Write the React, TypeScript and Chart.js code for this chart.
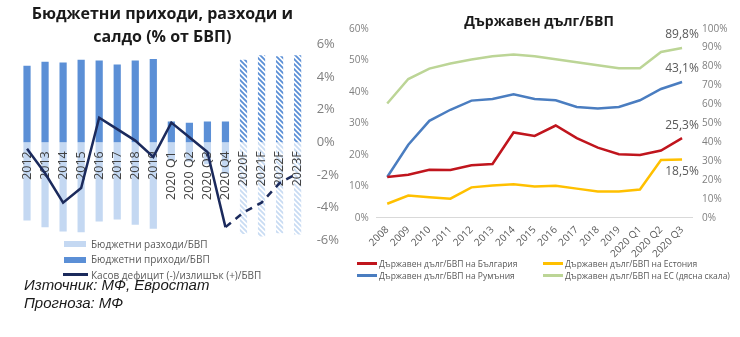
import React, { useEffect, useRef } from 'react';
import { Chart, registerables } from 'chart.js';
Chart.register(...registerables);

const FONT = '"Open Sans", "Noto Sans", sans-serif';

// ---------- Left chart: budget (% of GDP) ----------
const budgetCategories = ['2012', '2013', '2014', '2015', '2016', '2017', '2018', '2019', '2020 Q1', '2020 Q2', '2020 Q3', '2020 Q4', '2020F', '2021F', '2022F', '2023F'];
const budgetRevenue = [37.5, 39.5, 39.1, 40.4, 40.1, 38.1, 40.1, 40.8, 10.2, 9.6, 10.2, 10.2, 40.4, 42.6, 42.1, 42.6];
const budgetExpenditure = [38.3, 41.7, 43.7, 44.1, 38.8, 37.9, 40.4, 42.4, 9.0, 9.4, 10.8, 15.4, 45.0, 46.2, 44.6, 45.2];
const budgetBalance = [-0.4, -1.9, -3.7, -2.8, 1.5, 0.8, 0.1, -0.9, 1.2, 0.3, -0.6, -5.2, -4.3, -3.7, -2.5, -1.9];
const budgetSeriesNames = ['Бюджетни разходи/БВП', 'Бюджетни приходи/БВП', 'Касов дефицит (-)/излишък (+)/БВП'];
const budgetTitle = ['Бюджетни приходи, разходи и', 'салдо (% от БВП)'];

// ---------- Right chart: government debt (% of GDP) ----------
const debtCategories = ['2008', '2009', '2010', '2011', '2012', '2013', '2014', '2015', '2016', '2017', '2018', '2019', '2020 Q1', '2020 Q2', '2020 Q3'];
const debtBulgaria = [13.0, 13.7, 15.3, 15.2, 16.7, 17.1, 27.1, 26.0, 29.3, 25.3, 22.3, 20.2, 20.0, 21.4, 25.3];
const debtEstonia = [4.5, 7.1, 6.6, 6.1, 9.7, 10.3, 10.7, 10.0, 10.2, 9.3, 8.4, 8.4, 9.0, 18.4, 18.5];
const debtRomania = [13.0, 23.2, 30.8, 34.3, 37.2, 37.7, 39.2, 37.7, 37.3, 35.2, 34.7, 35.2, 37.3, 40.9, 43.1];
const debtEU = [60.5, 73.4, 78.9, 81.6, 83.7, 85.4, 86.3, 85.4, 83.9, 82.3, 80.7, 79.1, 79.1, 87.7, 89.8];
const debtSeriesNames = ['Държавен дълг/БВП на България', 'Държавен дълг/БВП на Естония', 'Държавен дълг/БВП на Румъния', 'Държавен дълг/БВП на ЕС (дясна скала)'];
const debtTitle = 'Държавен дълг/БВП';

const REV = '#5b8fd6';
const EXP = '#c4d8f2';
const BAL = '#1b2a5c';
const DEBT_COLORS = ['#c0151d', '#ffc000', '#4a7dc0', '#bcd596'];
const LABEL_POS = ['above', 'below', 'above', 'above'];

function hatch(color: string, bg: string) {
  const c = document.createElement('canvas');
  c.width = 5; c.height = 5;
  const g = c.getContext('2d')!;
  g.fillStyle = bg; g.fillRect(0, 0, 5, 5);
  g.strokeStyle = color; g.lineWidth = 1.8;
  g.beginPath();
  g.moveTo(-5, -5); g.lineTo(10, 10);
  g.moveTo(-5, 0); g.lineTo(5, 10);
  g.moveTo(0, -5); g.lineTo(10, 5);
  g.stroke();
  return g.createPattern(c, 'repeat')!;
}

// Draw line datasets after the category labels (bars -> labels -> line)
const lineOnTop = {
  id: 'lineOnTop',
  beforeDatasetDraw(chart: any, args: any) {
    if (chart.data.datasets[args.index].type === 'line') return false;
    return true;
  },
  afterDraw(chart: any) {
    chart.data.datasets.forEach((ds: any, i: number) => {
      if (ds.type === 'line') chart.getDatasetMeta(i).controller.draw();
    });
  },
};

function BudgetChart() {
  const ref = useRef<HTMLCanvasElement>(null);
  useEffect(() => {
    const isF = budgetCategories.map(c => c.endsWith('F'));
    const firstF = isF.indexOf(true);
    const revHatch = hatch(REV, '#ffffff');
    const expHatch = hatch('#c9dcf3', '#ffffff');
    const chart = new Chart(ref.current!, {
      type: 'bar',
      data: {
        labels: budgetCategories,
        datasets: [
          {
            type: 'line', label: budgetSeriesNames[2], data: budgetBalance, yAxisID: 'y1',
            borderColor: BAL, borderWidth: 2.5, pointRadius: 0, order: 0,
            segment: { borderDash: (ctx: any) => (ctx.p1DataIndex >= firstF ? [7, 6] : undefined) },
          } as any,
          {
            label: budgetSeriesNames[1], data: budgetRevenue, yAxisID: 'y',
            backgroundColor: isF.map(f => (f ? revHatch : REV)), order: 1,
            barPercentage: 0.4, categoryPercentage: 1,
          },
          {
            label: budgetSeriesNames[0], data: budgetExpenditure.map(v => -v), yAxisID: 'y',
            backgroundColor: isF.map(f => (f ? expHatch : EXP)), order: 2,
            barPercentage: 0.4, categoryPercentage: 1,
          },
        ],
      },
      options: {
        responsive: false,
        animation: false,
        layout: { padding: { left: 18, right: 3, top: 0, bottom: 0 } },
        plugins: {
          legend: { display: false },
          tooltip: { enabled: false },
          title: {
            display: true, text: budgetTitle, color: '#1a1a1a', fullSize: false,
            font: { family: FONT, size: 16, weight: 'bold', lineHeight: 1.44 },
            padding: { top: 2.5, bottom: -4.3 },
          },
        },
        scales: {
          x: {
            stacked: true,
            position: { y: 0 } as any,
            grid: { display: false, drawTicks: false },
            border: { display: false },
            ticks: { z: 1, minRotation: 90, maxRotation: 90, autoSkip: false, padding: 9, color: '#404040', font: { family: FONT, size: 12.5 } },
          },
          y: { stacked: true, display: false, min: -48, max: 48 },
          y1: {
            position: 'right', min: -6, max: 6,
            grid: { display: false, drawTicks: false },
            border: { display: false },
            ticks: { stepSize: 2, padding: 10, color: '#808080', font: { family: FONT, size: 13 }, callback: (v: any) => v + '%' },
          },
        },
      },
      plugins: [lineOnTop],
    });
    return () => chart.destroy();
  }, []);
  return <canvas ref={ref} width={352} height={258} style={{ position: 'absolute', left: 0, top: 0, width: 352, height: 258 }} />;
}

const endLabels = {
  id: 'endLabels',
  afterDatasetsDraw(chart: any) {
    const ctx = chart.ctx;
    chart.data.datasets.forEach((ds: any, i: number) => {
      const meta = chart.getDatasetMeta(i);
      const pt = meta.data[meta.data.length - 1];
      const v = ds.data[ds.data.length - 1];
      ctx.save();
      ctx.font = `12px ${FONT}`;
      ctx.fillStyle = '#595959';
      ctx.textAlign = 'center';
      ctx.textBaseline = 'middle';
      ctx.fillText(v.toFixed(1).replace('.', ',') + '%', pt.x, pt.y + (LABEL_POS[i] === 'above' ? -13 : 12));
      ctx.restore();
    });
  },
};

function DebtChart() {
  const ref = useRef<HTMLCanvasElement>(null);
  useEffect(() => {
    const series = [debtBulgaria, debtEstonia, debtRomania, debtEU];
    const chart = new Chart(ref.current!, {
      type: 'line',
      data: {
        labels: debtCategories,
        datasets: series.map((d, i) => ({
          label: debtSeriesNames[i], data: d, yAxisID: i === 3 ? 'y1' : 'y',
          borderColor: DEBT_COLORS[i], borderWidth: 2.5, pointRadius: 0, tension: 0,
        })),
      },
      options: {
        responsive: false,
        animation: false,
        layout: { padding: { left: 8, right: 3, top: 0, bottom: 0 } },
        plugins: {
          legend: { display: false },
          tooltip: { enabled: false },
          title: {
            display: true, text: debtTitle, color: '#1a1a1a',
            font: { family: FONT, size: 14, weight: 'bold', lineHeight: 1.2 },
            padding: { top: 13.6, bottom: -1.7 },
          },
        },
        scales: {
          x: {
            offset: true,
            grid: { display: false, drawTicks: false },
            border: { display: true, color: '#d9d9d9' },
            ticks: { minRotation: 45, maxRotation: 45, autoSkip: false, padding: 6, color: '#595959', font: { family: FONT, size: 10 } },
          },
          y: {
            min: 0, max: 60,
            grid: { display: false, drawTicks: false },
            border: { display: false },
            ticks: { stepSize: 10, padding: 8, color: '#808080', font: { family: FONT, size: 10 }, callback: (v: any) => v + '%' },
          },
          y1: {
            position: 'right', min: 0, max: 100,
            grid: { display: false, drawTicks: false },
            border: { display: false },
            ticks: { stepSize: 10, padding: 9.5, color: '#808080', font: { family: FONT, size: 10 }, callback: (v: any) => v + '%' },
          },
        },
      },
      plugins: [endLabels],
    });
    return () => chart.destroy();
  }, []);
  return <canvas ref={ref} width={407} height={266} style={{ position: 'absolute', left: 333, top: 0, width: 407, height: 266 }} />;
}

function Swatch({ kind, color }: { kind: string; color: string }) {
  if (kind === 'line') {
    return <span style={{ display: 'inline-block', width: 25, height: 3, background: color, marginRight: 3, verticalAlign: 'middle' }} />;
  }
  return <span style={{ display: 'inline-block', width: 22, height: 6, background: color, marginLeft: 1, marginRight: 5, verticalAlign: 'middle' }} />;
}

export default function App() {
  const budgetLegend = [
    { name: budgetSeriesNames[0], kind: 'box', color: EXP },
    { name: budgetSeriesNames[1], kind: 'box', color: REV },
    { name: budgetSeriesNames[2], kind: 'line', color: BAL },
  ];
  const debtLegendPos = [
    { left: 357, top: 257 }, { left: 543, top: 257 }, { left: 357, top: 269 }, { left: 543, top: 269 },
  ];
  return (
    <div style={{ position: 'fixed', left: 0, top: 0, width: 740, height: 337, background: '#fff', overflow: 'hidden' }}>
      <BudgetChart />
      <DebtChart />
      <div style={{ position: 'absolute', left: 63, top: 236, fontFamily: FONT, fontSize: 10, color: '#595959', lineHeight: '14px' }}>
        {budgetLegend.map((it, i) => (
          <div key={i} style={{ whiteSpace: 'nowrap' }}>
            <Swatch kind={it.kind} color={it.color} />
            <span style={{ verticalAlign: 'middle' }}>{it.name}</span>
          </div>
        ))}
      </div>
      {debtSeriesNames.map((n, i) => (
        <div key={i} style={{ position: 'absolute', left: debtLegendPos[i].left, top: debtLegendPos[i].top, fontFamily: FONT, fontSize: 8.5, color: '#595959', lineHeight: '12px', whiteSpace: 'nowrap' }}>
          <span style={{ display: 'inline-block', width: 20, height: 3, background: DEBT_COLORS[i], marginRight: 2, verticalAlign: 'middle' }} />
          <span style={{ verticalAlign: 'middle' }}>{n}</span>
        </div>
      ))}
      <div style={{ position: 'absolute', left: 24, top: 276, fontFamily: '"Liberation Sans", Arial, sans-serif', fontStyle: 'italic', fontSize: 15, color: '#1a1a1a', lineHeight: '18px' }}>
        <div>Източник: МФ, Евростат</div>
        <div>Прогноза: МФ</div>
      </div>
    </div>
  );
}
